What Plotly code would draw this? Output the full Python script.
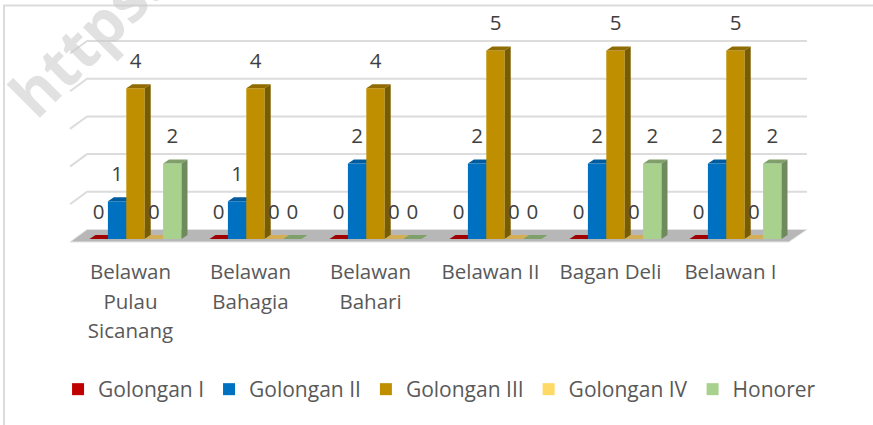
import plotly.graph_objects as go

categories = ["Belawan Pulau Sicanang", "Belawan Bahagia", "Belawan Bahari", "Belawan II", "Bagan Deli", "Belawan I"]
category_lines = [["Belawan", "Pulau", "Sicanang"], ["Belawan", "Bahagia"], ["Belawan", "Bahari"],
                  ["Belawan II"], ["Bagan Deli"], ["Belawan I"]]
series_names = ["Golongan I", "Golongan II", "Golongan III", "Golongan IV", "Honorer"]
golongan_1 = [0, 0, 0, 0, 0, 0]
golongan_2 = [1, 1, 2, 2, 2, 2]
golongan_3 = [4, 4, 4, 5, 5, 5]
golongan_4 = [0, 0, 0, 0, 0, 0]
honorer = [2, 0, 0, 0, 2, 2]
series_values = [golongan_1, golongan_2, golongan_3, golongan_4, honorer]
front_colors = ["#c00000", "#0070c0", "#bf8f00", "#ffd966", "#a9d18e"]
top_colors = ["#a00000", "#005c9e", "#8f6b00", "#d4ae55", "#7fa06a"]
side_colors = ["#7a0000", "#004a80", "#7a5c00", "#a58a40", "#6f8a5c"]

W, H = 873, 425
UNIT = 37.7            # px per value unit
X0, Y0 = 135.5, 239    # px of first group centre and of the front baseline
STEP = 120             # px per category
BAR = 18.4 / STEP      # bar width, category units
DX, DY = 6 / STEP, 4 / UNIT   # bar depth
x_range = [-X0 / STEP, (W - X0) / STEP]
y_range = [(Y0 - H) / UNIT, Y0 / UNIT]
TXT = "#595959"
FONT = "Open Sans, sans-serif"
FS = 20.5

fig = go.Figure()

# floor and back wall (base subplot)
wx0, wx1 = (70 - X0) / STEP, (790 - X0) / STEP
bx, by = 17 / STEP, 9.5 / UNIT
fig.add_trace(go.Scatter(x=[wx0, wx1 - 0.01, wx1 + bx, wx0 + bx, wx0], y=[-3 / UNIT, -3 / UNIT, by, by, -3 / UNIT],
                         mode="lines", fill="toself", fillcolor="#b7b7b7", line=dict(color="#e4e4e4", width=1),
                         hoverinfo="skip", showlegend=False))
gx, gy = [], []
for v in range(1, 6):
    gx += [wx0, wx0 + bx, wx1 + bx, None]
    gy += [v - 3 / UNIT, v + by, v + by, None]
fig.add_trace(go.Scatter(x=gx, y=gy, mode="lines", line=dict(color="#dcdcdc", width=2),
                         hoverinfo="skip", showlegend=False))

# one overlaid subplot per series so later series cover the depth faces of earlier ones
for s, (name, vals) in enumerate(zip(series_names, series_values)):
    ax = str(s + 2)
    centers = [i + (s - 2) * BAR for i in range(len(vals))]
    fig.add_trace(go.Bar(x=centers, y=vals, width=BAR, name=name, marker=dict(color=front_colors[s], line=dict(width=0)),
                         xaxis="x" + ax, yaxis="y" + ax, hoverinfo="skip"))
    tx, ty, sx, sy = [], [], [], []
    for c, v in zip(centers, vals):
        l, r = c - BAR / 2, c + BAR / 2
        tx += [l, r, r + DX, l + DX, l, None]
        ty += [v, v, v + DY, v + DY, v, None]
        if v > 0:
            sx += [r, r + DX, r + DX, r, r, None]
            sy += [0, DY, v + DY, v, 0, None]
    fig.add_trace(go.Scatter(x=tx, y=ty, mode="lines", fill="toself", fillcolor=top_colors[s], line=dict(width=0),
                             xaxis="x" + ax, yaxis="y" + ax, hoverinfo="skip", showlegend=False))
    if sx:
        fig.add_trace(go.Scatter(x=sx, y=sy, mode="lines", fill="toself", fillcolor=side_colors[s], line=dict(width=0),
                                 xaxis="x" + ax, yaxis="y" + ax, hoverinfo="skip", showlegend=False))

# data labels and category labels on the top-most subplot
top = str(len(series_names) + 1)
for s, vals in enumerate(series_values):
    fig.add_trace(go.Scatter(x=[i + (s - 2) * BAR for i in range(len(vals))], y=[v + 25.5 / UNIT for v in vals],
                             mode="text", text=[str(v) for v in vals], textposition="middle center",
                             textfont=dict(family=FONT, size=FS, color="#404040"),
                             xaxis="x" + top, yaxis="y" + top, hoverinfo="skip", showlegend=False))
lx, ly, lt = [], [], []
for i, lines in enumerate(category_lines):
    for j, t in enumerate(lines):
        lx.append(i - 5 / STEP)
        ly.append((Y0 - 274 - 29.5 * j) / UNIT)
        lt.append(t)
fig.add_trace(go.Scatter(x=lx, y=ly, mode="text", text=lt, textposition="middle center",
                         textfont=dict(family=FONT, size=FS, color=TXT),
                         xaxis="x" + top, yaxis="y" + top, hoverinfo="skip", showlegend=False))

axis_common = dict(visible=False, fixedrange=True)
layout = dict(
    width=W, height=H, margin=dict(l=0, r=0, t=0, b=0), paper_bgcolor="white", plot_bgcolor="white",
    barmode="overlay",
    xaxis=dict(range=x_range, **axis_common), yaxis=dict(range=y_range, **axis_common),
    font=dict(family=FONT, size=FS, color=TXT),
    legend=dict(orientation="h", x=0.0665, xanchor="left", y=0.0835, yanchor="middle", font=dict(family=FONT, size=21, color=TXT),
                bgcolor="rgba(0,0,0,0)", itemclick=False, itemdoubleclick=False),
    shapes=[dict(type="rect", xref="paper", yref="paper", x0=4 / W, x1=1.02, y0=-0.02, y1=1 - 5.5 / H,
                 line=dict(color="#dcdcdc", width=2))],
    annotations=[dict(text="<b>https:</b>", xref="paper", yref="paper", x=84 / W, y=1 - 40 / H, showarrow=False,
                      xanchor="center", yanchor="middle",
                      textangle=-45, font=dict(family=FONT, size=62, color="rgba(200,200,200,0.55)"))],
)
for s in range(len(series_names)):
    ax = str(s + 2)
    layout["xaxis" + ax] = dict(range=x_range, overlaying="x", anchor="y" + ax, **axis_common)
    layout["yaxis" + ax] = dict(range=y_range, overlaying="y", anchor="x" + ax, **axis_common)
fig.update_layout(**layout)
fig.write_html("out.html", config={"displayModeBar": False},
               post_script="document.body.style.margin='0';document.body.style.overflow='hidden';")
